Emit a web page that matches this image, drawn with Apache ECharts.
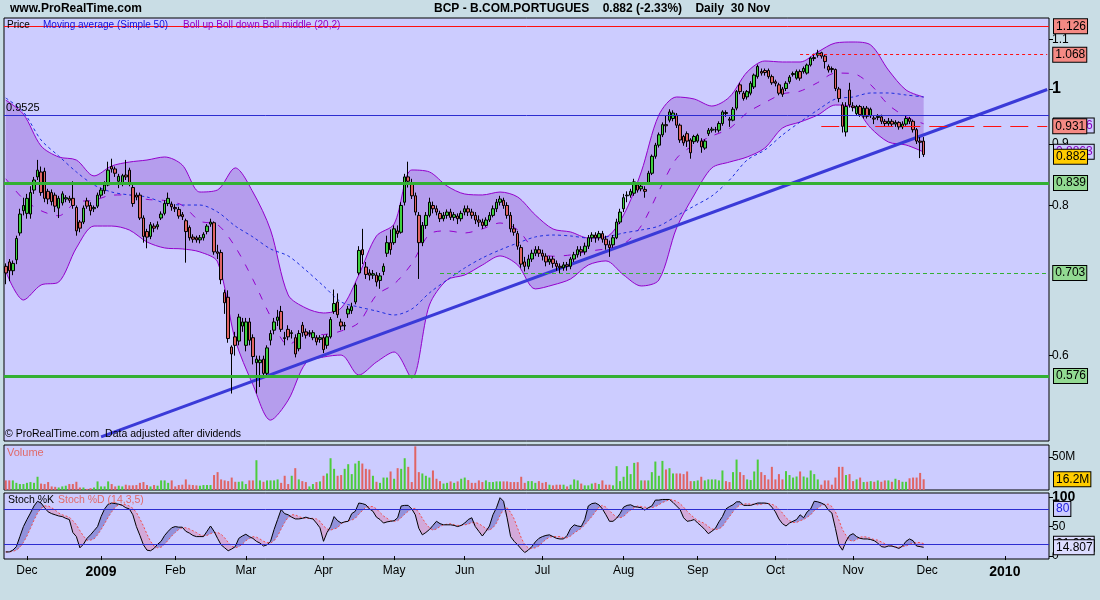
<!DOCTYPE html>
<html><head><meta charset="utf-8">
<script src="https://cdn.jsdelivr.net/npm/echarts@6.0.0/dist/echarts.min.js"></script>
<style>html,body{margin:0;padding:0;background:#c9dde5;}#c{width:1100px;height:600px;}</style>
</head><body><div id="c"></div>
<script>
// ---------------- DATA ----------------
const holidays = ['2008-12-25','2008-12-26','2009-01-01','2009-04-10','2009-04-13','2009-05-01','2009-12-25','2010-01-01'];
const firstDay = '2008-11-21', lastDay = '2010-01-20';
// daily candles [open, close, low, high], 21 Nov 2008 .. 30 Nov 2009
const candles = [
[.712,.703,.688,.716],[.718,.706,.692,.722],[.706,.716,.700,.720],[.721,.751,.715,.755],[.759,.787,.755,.795],
[.792,.800,.785,.812],[.788,.811,.780,.818],[.787,.820,.780,.830],[.824,.840,.818,.845],[.845,.856,.840,.873],
[.853,.820,.815,.862],[.854,.811,.805,.860],[.822,.810,.802,.826],[.820,.806,.800,.825],[.816,.799,.790,.820],
[.796,.811,.781,.815],[.804,.818,.800,.822],[.810,.812,.805,.816],[.811,.808,.804,.815],[.811,.800,.795,.838],
[.797,.762,.755,.800],[.775,.766,.760,.778],[.775,.796,.772,.800],[.807,.799,.795,.812],[.800,.792,.785,.805],
[.795,.797,.790,.800],[.799,.816,.796,.820],[.816,.824,.812,.828],[.823,.832,.818,.838],[.832,.856,.830,.870],
[.862,.858,.852,.875],[.858,.851,.845,.862],[.838,.846,.827,.850],[.835,.847,.830,.850],[.848,.845,.840,.873],
[.856,.835,.830,.860],[.828,.803,.798,.832],[.816,.813,.808,.820],[.816,.781,.778,.820],[.781,.754,.745,.785],
[.761,.753,.737,.765],[.754,.771,.750,.775],[.769,.766,.760,.773],[.768,.771,.764,.776],[.781,.787,.778,.791],
[.788,.803,.785,.808],[.803,.811,.799,.820],[.802,.798,.792,.806],[.797,.795,.790,.802],[.794,.784,.780,.798],
[.786,.783,.778,.790],[.777,.761,.717,.780],[.767,.752,.748,.770],[.753,.750,.745,.757],[.752,.749,.745,.755],
[.749,.752,.744,.756],[.752,.757,.748,.760],[.761,.769,.757,.772],[.772,.775,.768,.780],[.774,.732,.728,.776],
[.732,.730,.722,.742],[.731,.694,.688,.735],[.677,.664,.650,.681],[.671,.620,.615,.680],[.610,.602,.558,.612],
[.622,.612,.600,.628],[.617,.646,.612,.650],[.635,.640,.628,.645],[.612,.640,.605,.645],[.640,.618,.612,.645],
[.621,.599,.590,.625],[.592,.596,.558,.600],[.592,.595,.565,.600],[.596,.580,.575,.600],[.580,.609,.575,.612],
[.618,.626,.612,.630],[.630,.640,.625,.645],[.642,.646,.635,.655],[.653,.631,.628,.660],[.621,.620,.612,.628],
[.631,.622,.618,.636],[.626,.627,.620,.630],[.621,.602,.598,.625],[.608,.626,.605,.630],[.636,.627,.622,.640],
[.628,.624,.620,.632],[.626,.627,.622,.630],[.621,.627,.618,.630],[.621,.616,.612,.624],[.619,.621,.615,.624],
[.621,.607,.603,.624],[.612,.622,.608,.625],[.622,.643,.620,.646],[.653,.663,.650,.681],[.665,.649,.645,.676],
[.640,.635,.630,.644],[.635,.636,.630,.640],[.650,.656,.645,.660],[.654,.659,.650,.664],[.665,.687,.662,.690],
[.703,.734,.700,.740],[.735,.728,.715,.765],[.711,.701,.695,.718],[.703,.700,.693,.708],[.700,.702,.695,.707],
[.700,.691,.685,.704],[.693,.699,.682,.703],[.705,.712,.700,.716],[.730,.745,.725,.755],[.745,.735,.728,.764],
[.745,.765,.742,.770],[.762,.758,.752,.770],[.760,.800,.758,.805],[.805,.845,.800,.850],[.845,.838,.828,.870],
[.835,.815,.810,.842],[.815,.790,.785,.820],[.785,.745,.695,.790],[.745,.770,.740,.775],[.770,.785,.765,.790],
[.785,.805,.782,.812],[.800,.795,.788,.806],[.795,.790,.785,.800],[.788,.780,.775,.792],[.780,.785,.776,.790],
[.785,.790,.780,.794],[.790,.782,.778,.795],[.782,.786,.777,.790],[.784,.780,.772,.788],[.780,.788,.776,.792],
[.790,.795,.785,.800],[.795,.790,.784,.800],[.790,.785,.780,.795],[.785,.778,.772,.790],[.778,.775,.768,.785],
[.775,.770,.765,.780],[.770,.778,.768,.782],[.778,.785,.775,.790],[.785,.795,.782,.800],[.795,.805,.790,.810],
[.805,.810,.800,.815],[.808,.800,.795,.812],[.800,.785,.780,.805],[.785,.765,.760,.790],[.765,.760,.755,.772],
[.758,.740,.735,.762],[.738,.715,.710,.742],[.718,.712,.705,.725],[.712,.722,.708,.728],[.722,.730,.718,.735],
[.730,.735,.726,.740],[.735,.730,.725,.740],[.730,.726,.720,.735],[.726,.718,.712,.730],[.718,.722,.714,.726],
[.722,.716,.710,.726],[.716,.712,.706,.720],[.712,.710,.703,.716],[.710,.714,.706,.718],[.714,.712,.706,.718],
[.712,.722,.708,.725],[.722,.728,.718,.732],[.728,.735,.724,.740],[.735,.732,.726,.740],[.732,.740,.728,.745],
[.740,.752,.736,.756],[.752,.756,.746,.760],[.756,.752,.745,.760],[.752,.758,.748,.762],[.758,.750,.745,.762],
[.750,.742,.735,.755],[.742,.738,.725,.748],[.742,.752,.738,.756],[.752,.775,.750,.780],[.775,.790,.772,.795],
[.795,.812,.790,.818],[.815,.816,.805,.822],[.816,.822,.812,.826],[.819,.837,.815,.842],[.832,.824,.820,.836],
[.826,.830,.822,.834],[.825,.822,.812,.830],[.835,.851,.832,.855],[.851,.879,.848,.882],[.879,.898,.875,.902],
[.898,.916,.894,.920],[.916,.934,.912,.938],[.934,.932,.920,.950],[.942,.957,.938,.962],[.945,.955,.940,.960],
[.951,.933,.928,.955],[.933,.907,.902,.936],[.913,.902,.897,.916],[.918,.905,.895,.922],[.907,.885,.875,.910],
[.904,.913,.900,.916],[.905,.915,.902,.918],[.905,.895,.885,.910],[.893,.905,.890,.908],[.918,.924,.914,.928],
[.924,.926,.920,.930],[.925,.925,.920,.930],[.924,.936,.920,.940],[.936,.957,.932,.960],[.956,.954,.948,.960],
[.944,.942,.930,.948],[.942,.962,.940,.966],[.964,.995,.960,.998],[1.008,.995,.990,1.012],[.992,.982,.978,.996],
[.985,.995,.980,.998],[.992,1.011,.988,1.015],[1.004,1.027,1.000,1.030],[1.024,1.044,1.020,1.048],[1.034,1.031,1.026,1.040],
[1.036,1.032,1.026,1.040],[1.036,1.024,1.020,1.040],[1.024,1.012,1.008,1.028],[1.014,1.011,1.005,1.018],[1.008,.992,.988,1.012],
[1.000,.990,.985,1.004],[1.001,1.011,.996,1.015],[1.014,1.023,1.010,1.027],[1.028,1.030,1.024,1.034],[1.021,1.034,1.018,1.038],
[1.034,1.021,1.016,1.038],[1.034,1.040,1.030,1.044],[1.031,1.047,1.028,1.050],[1.047,1.061,1.044,1.064],[1.060,1.062,1.055,1.070],
[1.067,1.071,1.062,1.078],[1.072,1.065,1.060,1.074],[1.065,1.054,1.040,1.068],[1.044,1.037,1.032,1.048],[1.040,1.038,1.032,1.044],
[1.038,1.001,.996,1.040],[1.000,.982,.975,1.004],[.970,.931,.920,.975],[.921,.967,.913,.975],[.998,.970,.965,1.012],
[.968,.965,.958,.975],[.954,.967,.950,.970],[.967,.952,.948,.970],[.949,.964,.945,.968],[.964,.949,.945,.968],
[.950,.962,.946,.965],[.946,.944,.935,.950],[.947,.949,.942,.953],[.948,.940,.935,.952],[.940,.936,.930,.944],
[.936,.940,.932,.946],[.940,.935,.930,.944],[.935,.938,.930,.942],[.938,.930,.925,.940],[.930,.935,.926,.940],
[.935,.945,.932,.950],[.945,.940,.935,.948],[.940,.925,.920,.943],[.925,.905,.900,.928],[.905,.903,.876,.912],
[.905,.882,.878,.912]
];
// volume in millions of shares
const volumeM = [
14.5,14.5,14.5,10.8,9,9,10.8,12,10.8,20, 9.7,9,12,5.4,4.8,3.8,5.4,6.5,9,9,
12.4,3.8,3.8,1.6,2.7,3.8,13,5.4,5.4,13, 9,5.4,6.5,5.4,8,7,7,7.5,10.8,12,
7.5,5.4,7.5,6.5,14.5,14.5,10.8,14.5,5.4,7.5, 8,16,8,7.5,7,6.5,7.5,7.5,7.5,22.6,
27,16,14.5,13.4,18.8,12.4,12.4,13,9,14.5, 14.5,45,14.5,12.4,14.5,14.5,14.5,16,10.8,21.5,
9,21.5,33,16,13.4,12,5.4,9,12,13, 21.5,25,48,32,21.5,22.6,32,39,24,40,
44,40,32,31,21.5,12.4,10.8,18.8,18.8,28, 17,33,32,48,35,12,66,27,25,21.5,
18.8,29.5,17,13.4,9.7,10.8,13,10.8,13,17, 18.8,15,10.8,10.8,14.5,12,14.5,12,12,13,
13,13,13,12,12,12,20,10.8,13.4,13.4, 10.8,13.4,10.8,12,8,7,8,8,8,5.4,
8,16,14.5,9.7,7,7,9.7,10.8,9,14.5, 8,8,7,36,13.4,20,36,24,41,42,
14.5,14.5,14.5,27,43,21.5,44,31,33,25, 25,25,24,28,13.4,13.4,14.5,20,14.5,16,
16,16,14.5,29.5,13.4,12,27,46,27,22.6, 16,15,28,46,27,22.6,16,35,16,24,
16,28.5,22.6,18.8,20.4,28,20.4,18.8,29.5,24, 16,8,14.5,14.5,8,18.8,35,35,22.6,24,
13.4,16,18.8,12,12.4,13.4,12.4,14.5,12.4,14.5, 14.5,12.4,17,15,12.4,12.4,17.7,18.8,18.8,25.8,
16.2
];
const stochK = [
7,7,10,16,33,50,62,73,85,93, 90,82,75,72,70,68,67,64,62,40, 33,14,20,30,36,43,50,67,80,88,
90,89,88,86,82,80,70,50,35,19, 10,9,13,20,25,35,42,48,50,49, 49,42,39,35,33,33,33,42,51,42,
30,19,14,9,12,16,30,34,37,33, 30,25,22,17,19,25,45,62,79,72, 70,66,63,63,64,66,64,63,56,48,
25,40,50,67,60,56,58,59,72,76, 90,89,87,80,76,66,62,56,58,59, 60,65,85,86,86,80,70,47,36,40,
45,52,59,55,53,53,53,52,50,52, 56,62,65,50,42,34,42,51,70,82, 99,93,65,33,25,19,12,6,10,16,
24,30,33,35,36,33,30,29,29,35, 47,53,51,50,62,85,89,90,87,80, 70,59,59,64,72,83,86,87,84,83,
82,78,82,85,95,95,96,96,96,91, 85,79,65,59,60,62,56,51,45,38, 42,47,58,67,80,84,87,92,92,86,
86,86,88,90,90,90,89,83,75,63, 55,51,56,59,62,70,65,75,80,93, 92,90,87,78,73,47,19,10,25,35,
38,33,30,29,29,28,26,22,16,15, 17,17,15,13,17,25,29,26,17,16, 14.807
];
const stochD = [
7,7,8,10,15,23,34,47,61,73, 81,85,85,82,78,73,70,68,66,60, 53,43,34,27,27,29,36,45,55,66,
75,83,87,88,87,85,81,74,63,51, 37,25,17,14,15,20,27,34,40,45, 48,48,46,43,40,36,35,35,38,40,
40,37,31,23,17,14,16,20,26,30, 33,32,29,25,23,22,26,34,46,57, 66,70,70,67,65,64,64,64,63,59,
51,46,44,46,48,55,58,60,61,64, 71,77,83,84,84,80,74,68,64,60, 59,60,65,71,76,80,81,74,64,55,
48,44,46,50,53,54,55,53,52,52, 53,54,57,57,55,51,47,44,48,56, 69,79,82,74,63,47,31,19,14,13,
14,17,23,28,32,33,33,33,31,31, 34,39,43,47,53,60,67,75,83,86, 83,77,71,66,65,67,73,78,82,85,
84,83,82,82,84,87,91,93,96,95, 93,89,83,76,70,65,60,58,55,50, 46,45,46,50,59,67,75,82,87,88,
89,88,88,87,88,89,89,88,85,80, 73,65,60,57,57,60,62,66,70,77, 81,86,88,88,84,75,61,45,35,27,
25,28,32,33,32,30,28,27,24,21, 19,17,16,15,16,17,20,22,23,23, 21
];
// indicator readings every 5 trading days (day index from 21 Nov 2008)
const bandAt = [0,5,10,15,20,25,30,35,40,45,50,55,60,65,70,75,80,85,90,95,100,105,110,115,120,125,130,135,140,145,150,155,160,165,170,175,180,185,190,195,200,205,210,215,220,225,230,235,240,245,250,255,260];
const bollUp = [.979,.953,.8966,.8779,.8728,.8466,.8629,.8694,.8728,.8779, .8645,.8209,.8242,.8597,.8209,.7633,.6740,.6573,.6511,.6573, .7003,.7546,.7721,.8563,.8531,.8304,.8178,.8163,.8209,.8131, .7856,.7648,.7604,.7517,.7532,.7856,.8531,.9514,.9848,.9810, .9679,.9848,1.0331,1.0551,1.0531,1.0531,1.0734,1.0921,1.0942,1.0879, 1.0371,.9981,.9848];
const bollLow = [.705,.6675,.687,.6909,.7375,.7691,.7691,.7633,.746,.7375, .7361,.7319,.718,.6183,.5676,.5303,.551,.5916,.5984,.6007, .5781,.5927,.6042,.5748,.6611,.6936,.7003,.7138,.7263,.7138, .6818,.687,.695,.7138,.7194,.7003,.6857,.6936,.7662,.8163, .8597,.8694,.8779,.8931,.928,.9387,.9514,.9698,.9661,.928, .9034,.8983,.8863];
const bollMid = [.842,.810,.792,.7844,.8052,.8079,.816,.8164,.8094,.8077, .8003,.7764,.7711,.739,.6943,.6468,.6125,.6245,.6248,.629, .6392,.6737,.6882,.7156,.7571,.762,.759,.765,.7736,.7635, .7337,.7259,.7277,.7328,.7363,.743,.7694,.8225,.8755,.8987, .9138,.9271,.9555,.9741,.9906,.9959,1.0124,1.031,1.030,1.008, .9703,.9482,.9356];
const ma50 = [.9829,.9569,.9069,.8795,.8531,.832,.8209,.8163,.8131,.8038, .8007,.8007,.7901,.7691,.7532,.7361,.7263,.7068,.6857,.665, .6586,.6536,.6486,.656,.6766,.6936,.7097,.7235,.7347,.7445, .7532,.756,.7546,.7517,.7532,.7589,.7633,.7691,.7841,.7992, .8147,.84,.8728,.8897,.9157,.9387,.9606,.981,.9848,.9924, .9924,.9886,.9848];
// trend line anchors [date, price]
const trendPoints = [['2009-01-02', 0.5135], ['2010-01-20', 0.999]];
// horizontal levels and where the partial ones begin
const levelValues = [1.126, 1.068, 0.9525, 0.931, 0.839, 0.703, 0.576];
const levelStart  = [null, '2009-10-12', null, '2009-10-20', null, '2009-05-21', null];
const lastPrice = 0.882;
const priceTicks = [0.6, 0.8, 0.9, 1, 1.1];
const volTicks = [50];
const stochTicks = [0, 50, 100];
const stochLevels = [80, 20];
const monthNames = ['Jan','Feb','Mar','Apr','May','Jun','Jul','Aug','Sep','Oct','Nov','Dec'];

// ---------------- BUILD ----------------
const dates = [];
for (let t = Date.parse(firstDay+'T00:00:00Z'); t <= Date.parse(lastDay+'T00:00:00Z'); t += 86400000) {
  const d = new Date(t), wd = d.getUTCDay();
  if (wd === 0 || wd === 6) continue;
  const s = d.toISOString().slice(0,10);
  if (holidays.includes(s)) continue;
  dates.push(s);
}
const N = dates.length;
const monthStart = dates.map((d,i) => i > 0 && d.slice(5,7) !== dates[i-1].slice(5,7));
const L = Math.log;
const FF = "'Liberation Sans', Arial, sans-serif";

function box(bg, text, color, dist) {
  return {show:true, position:'end', distance: dist || 5, formatter: text, backgroundColor: bg,
    borderColor:'#000', borderWidth:1, padding:[2,1,0,2], color: color || '#000',
    fontSize:12, fontFamily:FF, lineHeight:12};
}
const RED = '#ff1010', GREEN = '#33b033', BLUE = '#2c2cd0';
const levelStyle = [
  {color:RED, width:1, type:'solid', bg:'#f48a84'},
  {color:RED, width:1, type:[3,3], bg:'#f48a84'},
  {color:BLUE, width:1, type:'solid', bg:null},
  {color:RED, width:1, type:[18,9], bg:'#f48a84'},
  {color:GREEN, width:3, type:'solid', bg:'#92da92'},
  {color:GREEN, width:1, type:[4,3], bg:'#92da92'},
  {color:GREEN, width:3, type:'solid', bg:'#92da92'}
];
const levelLines = levelValues.map((v,k) => {
  const st = levelStyle[k];
  const ls = {color: st.color, width: st.width, type: st.type};
  const lab = st.bg ? box(st.bg, v.toFixed(3), '#000', levelStart[k] ? 6 : 5)
    : {show:true, position:'insideStartTop', formatter: String(v), color:'#000', fontSize:11, fontFamily:FF, distance:2};
  if (levelStart[k]) {
    return [{coord:[dates.indexOf(levelStart[k]), L(v)], lineStyle: ls, label: lab}, {coord:[N-1, L(v)]}];
  }
  return {yAxis: L(v), lineStyle: ls, label: lab};
});
levelLines.push({yAxis: L(lastPrice), lineStyle:{color:'rgba(0,0,0,0)', width:0}, label: box('#ffcc00', lastPrice.toFixed(3))});

const band = (arr) => bandAt.map((i,k) => [i, L(arr[k])]);
const g0 = {xAxisIndex:0, yAxisIndex:0};
const g1 = {xAxisIndex:1, yAxisIndex:1};
const g2 = {xAxisIndex:2, yAxisIndex:2};
const lastK = stochK.length - 1;
const minKD = stochK.map((k,i) => Math.min(k, stochD[i]));
const upKD = stochK.map((k,i) => Math.max(k - stochD[i], 0));
const dnKD = stochK.map((k,i) => Math.max(stochD[i] - k, 0));

const xBase = {type:'category', data: dates, boundaryGap: true, axisLine:{show:false}, axisTick:{show:false}, axisLabel:{show:false}, splitLine:{show:false}};
const option = {
  animation: false,
  backgroundColor: '#c9dde5',
  grid: [
    {left:4, top:18, width:1045, height:423, show:true, backgroundColor:'#ccccff', borderColor:'#000', borderWidth:1},
    {left:4, top:445, width:1045, height:45, show:true, backgroundColor:'#ccccff', borderColor:'#000', borderWidth:1},
    {left:4, top:493, width:1045, height:66, show:true, backgroundColor:'#ccccff', borderColor:'#000', borderWidth:1}
  ],
  xAxis: [
    Object.assign({}, xBase, {gridIndex:0}),
    Object.assign({}, xBase, {gridIndex:1}),
    Object.assign({}, xBase, {gridIndex:2,
      axisTick:{show:true, alignWithLabel:true, interval:(i) => monthStart[i], length:4, lineStyle:{color:'#000'}},
      axisLabel:{show:true, interval:(i) => monthStart[i], margin:6, color:'#000', fontSize:12, fontFamily:FF,
        formatter:(v) => { const m = +v.slice(5,7); return m === 1 ? '{y|' + v.slice(0,4) + '}' : monthNames[m-1]; },
        rich:{y:{fontWeight:'bold', fontSize:14, fontFamily:FF, color:'#000'}}}})
  ],
  yAxis: [
    {gridIndex:0, type:'value', position:'right', min: L(0.5095), max: L(1.1457), splitLine:{show:false}, axisLine:{show:false},
      axisTick:{show:true, customValues: priceTicks.map(L), length:4, lineStyle:{color:'#000'}},
      axisLabel:{customValues: priceTicks.map(L), margin:3, color:'#000', fontSize:12, fontFamily:FF,
        formatter:(v) => { const p = Math.exp(v); const t = priceTicks.reduce((a,b) => Math.abs(b-p) < Math.abs(a-p) ? b : a); return t === 1 ? '{b|1}' : String(t); },
        rich:{b:{fontWeight:'bold', fontSize:16, fontFamily:FF, color:'#000'}}}},
    {gridIndex:1, type:'value', position:'right', min:0, max:68, splitLine:{show:false}, axisLine:{show:false},
      axisTick:{show:true, customValues: volTicks, length:4, lineStyle:{color:'#000'}},
      axisLabel:{customValues: volTicks, margin:3, color:'#000', fontSize:12, fontFamily:FF, formatter:(v) => v + 'M'}},
    {gridIndex:2, type:'value', position:'right', min:-5, max:107, splitLine:{show:false}, axisLine:{show:false},
      axisTick:{show:true, customValues: stochTicks, length:4, lineStyle:{color:'#000'}},
      axisLabel:{customValues: stochTicks, margin:3, color:'#000', fontSize:12, fontFamily:FF,
        formatter:(v) => v === 100 ? '{b|100}' : String(v), rich:{b:{fontWeight:'bold', fontSize:14, fontFamily:FF, color:'#000'}}}}
  ],
  series: [
    Object.assign({type:'line', data: band(bollLow), stack:'band', stackStrategy:'all', symbol:'none', smooth:0.3, lineStyle:{opacity:0}, z:1, silent:true}, g0),
    Object.assign({type:'line', data: bandAt.map((i,k) => [i, L(bollUp[k]) - L(bollLow[k])]), stack:'band', stackStrategy:'all', symbol:'none', smooth:0.3,
      lineStyle:{opacity:0}, areaStyle:{color:'#b59ded', opacity:1}, z:1, silent:true}, g0),
    Object.assign({type:'line', name:'Boll up', data: band(bollUp), symbol:'none', smooth:0.3, lineStyle:{color:'#9400cc', width:1}, z:2}, g0),
    Object.assign({type:'line', name:'Boll down', data: band(bollLow), symbol:'none', smooth:0.3, lineStyle:{color:'#9400cc', width:1}, z:2}, g0),
    Object.assign({type:'line', name:'Boll middle', data: band(bollMid), symbol:'none', smooth:0.3, lineStyle:{color:'#9400cc', width:1, type:[7,9]}, z:2,
      markLine:{silent:true, symbol:['none','none'], z:5, animation:false,
        data:[{yAxis: L(bollMid[bollMid.length-1]), lineStyle:{color:'rgba(0,0,0,0)', width:0}, label: box('#ccccff', bollMid[bollMid.length-1].toFixed(4), '#8a00c0')},
              {yAxis: L(bollLow[bollLow.length-1]), lineStyle:{color:'rgba(0,0,0,0)', width:0}, label: box('#ccccff', bollLow[bollLow.length-1].toFixed(4), '#8a00c0')}]}}, g0),
    Object.assign({type:'line', name:'MA50', data: band(ma50), symbol:'none', smooth:0.3, lineStyle:{color:'#1c2ee0', width:1, type:[3,3]}, z:2}, g0),
    Object.assign({type:'line', name:'trend', data: trendPoints.map(p => [p[0], L(p[1])]), symbol:'none', lineStyle:{color:'#3a3ad8', width:3}, z:2}, g0),
    Object.assign({type:'candlestick', data: candles.map(r => r.map(L)), barWidth:3,
      itemStyle:{color:'#3fd03f', color0:'#e06464', borderColor:'#000', borderColor0:'#000', borderWidth:1}, z:3}, g0),
    Object.assign({type:'line', data:[[0, L(1)]], symbol:'none', lineStyle:{opacity:0},
      markLine:{silent:true, symbol:['none','none'], z:6, animation:false, data: levelLines}}, g0),
    Object.assign({type:'bar', data: volumeM.map((v,i) => ({value: v, itemStyle:{color: candles[i][1] >= candles[i][0] ? '#4ccc3c' : '#e06464'}})), barWidth:2,
      markLine:{silent:true, symbol:['none','none'], z:6, animation:false,
        data:[{yAxis: volumeM[volumeM.length-1], lineStyle:{color:'rgba(0,0,0,0)', width:0}, label: box('#ffcc00', volumeM[volumeM.length-1] + 'M')}]}}, g1),
    Object.assign({type:'line', data: minKD, stack:'kup', stackStrategy:'all', symbol:'none', lineStyle:{opacity:0}, z:1, silent:true}, g2),
    Object.assign({type:'line', data: upKD, stack:'kup', stackStrategy:'all', symbol:'none', lineStyle:{opacity:0}, areaStyle:{color:'#9292dc', opacity:1}, z:1, silent:true}, g2),
    Object.assign({type:'line', data: minKD, stack:'kdn', stackStrategy:'all', symbol:'none', lineStyle:{opacity:0}, z:1, silent:true}, g2),
    Object.assign({type:'line', data: dnKD, stack:'kdn', stackStrategy:'all', symbol:'none', lineStyle:{opacity:0}, areaStyle:{color:'#d3a9da', opacity:1}, z:1, silent:true}, g2),
    Object.assign({type:'line', name:'Stoch %D', data: stochD, symbol:'none', lineStyle:{color:'#f05050', width:1, type:[2,2]}, z:3,
      markLine:{silent:true, symbol:['none','none'], z:5, animation:false,
        data:[{yAxis: stochD[lastK], lineStyle:{color:'rgba(0,0,0,0)', width:0}, label: box('#dcdcff', stochD[lastK].toFixed(3))}]}}, g2),
    Object.assign({type:'line', name:'Stoch %K', data: stochK, symbol:'none', lineStyle:{color:'#000', width:1}, z:4,
      markLine:{silent:true, symbol:['none','none'], z:6, animation:false,
        data: stochLevels.map(v => ({yAxis: v, lineStyle:{color:BLUE, width:1, type:'solid'},
          label: v === 80 ? box('#ccccff', String(v), '#2222dd') : {show:false}})).concat([
          {yAxis: stochK[lastK], lineStyle:{color:'rgba(0,0,0,0)', width:0}, label: box('#dcdcff', stochK[lastK].toFixed(3))}])}}, g2)
  ],
  graphic: [
    {type:'text', x:10, y:3, z:100, style:{text:'www.ProRealTime.com', font:'bold 12px ' + FF, fill:'#000'}},
    {type:'text', x:434, y:3, z:100, style:{text:'BCP - B.COM.PORTUGUES    0.882 (-2.33%)    Daily  30 Nov', font:'bold 12px ' + FF, fill:'#000'}},
    {type:'text', x:7, y:20, z:100, style:{text:'Price', font:'10px ' + FF, fill:'#000'}},
    {type:'text', x:43, y:20, z:100, style:{text:'Moving average (Simple 50)', font:'10px ' + FF, fill:'#1010e0'}},
    {type:'text', x:183, y:20, z:100, style:{text:'Boll up Boll down Boll middle (20,2)', font:'10px ' + FF, fill:'#9000c8'}},
    {type:'text', x:5, y:429, z:100, style:{text:'\u00a9 ProRealTime.com  Data adjusted after dividends', font:'10.5px ' + FF, fill:'#000'}},
    {type:'text', x:7, y:447, z:100, style:{text:'Volume', font:'11px ' + FF, fill:'#e06a6a'}},
    {type:'text', x:8, y:495, z:100, style:{text:'Stoch %K', font:'10.5px ' + FF, fill:'#000'}},
    {type:'text', x:58, y:495, z:100, style:{text:'Stoch %D (14,3,5)', font:'10.5px ' + FF, fill:'#e06a6a'}}
  ]
};
const chart = echarts.init(document.getElementById('c'), null, {width:1100, height:600});
chart.setOption(option);
</script></body></html>
